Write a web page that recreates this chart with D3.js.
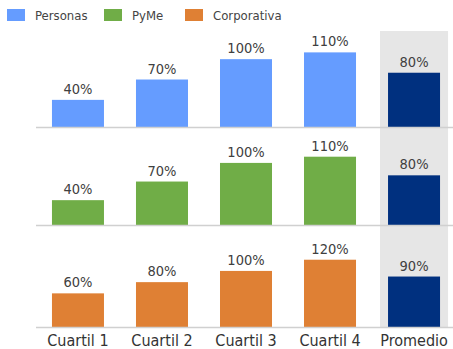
<!DOCTYPE html>
<html>
<head>
<meta charset="utf-8">
<script src="https://cdn.jsdelivr.net/npm/d3@7"></script>
<style>
  body { margin: 0; background: #fff; }
  text { font-family: "DejaVu Sans Condensed", "DejaVu Sans", sans-serif; font-stretch: condensed; }
</style>
</head>
<body>
<div id="graph"></div>
<script>
// categories and series
var categories = ["Cuartil 1", "Cuartil 2", "Cuartil 3", "Cuartil 4", "Promedio"];
var segments = ["Personas", "PyMe", "Corporativa"];
var personas = [40, 70, 100, 110, 80];
var pyme = [40, 70, 100, 110, 80];
var corporativa = [60, 80, 100, 120, 90];
var yMax = [143, 153, 173];

var colors = ["#659cff", "#70ad47", "#df8034"];
var avgColor = "#00307f";

var width = 453, height = 349;
var svg = d3.select("#graph").append("svg")
    .attr("width", width)
    .attr("height", height);

var x = d3.scaleBand()
    .domain(categories)
    .range([36, 456])
    .paddingInner(0.381)
    .paddingOuter(0.19);

var panelTop = [30, 130, 230],
    panelBase = [127, 225, 327];

// grey band behind Promedio
svg.append("rect")
    .attr("x", x("Promedio") - 8)
    .attr("y", 31)
    .attr("width", x.bandwidth() + 16)
    .attr("height", panelBase[2] - 31)
    .attr("fill", "#e6e6e6");

var series = [personas, pyme, corporativa];

series.forEach(function(values, p) {
  var y = d3.scaleLinear()
      .domain([0, yMax[p]])
      .range([panelBase[p], panelTop[p]]);

  var g = svg.append("g");

  g.selectAll("rect")
    .data(values)
    .enter().append("rect")
    .attr("x", function(d, i) { return x(categories[i]); })
    .attr("y", function(d) { return y(d); })
    .attr("width", x.bandwidth())
    .attr("height", function(d) { return y(0) - y(d); })
    .attr("fill", function(d, i) { return categories[i] == "Promedio" ? avgColor : colors[p]; });

  g.selectAll("text")
    .data(values)
    .enter().append("text")
    .attr("x", function(d, i) { return x(categories[i]) + x.bandwidth() / 2; })
    .attr("y", function(d) { return y(d) - 6; })
    .attr("text-anchor", "middle")
    .attr("font-size", "14.5px")
    .attr("fill", "#404040")
    .text(function(d) { return d + "%"; });

  // baseline
  g.append("line")
    .attr("x1", 36).attr("x2", 453)
    .attr("y1", y(0) + 0.5).attr("y2", y(0) + 0.5)
    .attr("stroke", "#d0d0d0")
    .attr("stroke-width", 1.5);
});

// category labels
svg.selectAll("text.cat")
  .data(categories)
  .enter().append("text")
  .attr("class", "cat")
  .attr("x", function(d) { return x(d) + x.bandwidth() / 2; })
  .attr("y", 346)
  .attr("text-anchor", "middle")
  .attr("font-size", "16px")
  .attr("fill", "#333")
  .text(function(d) { return d; });

// legend
var legendX = [7, 104, 185];
var legend = svg.selectAll("g.legend")
  .data(segments)
  .enter().append("g")
  .attr("class", "legend")
  .attr("transform", function(d, i) { return "translate(" + legendX[i] + ",9)"; });

legend.append("rect")
  .attr("width", 18).attr("height", 12)
  .attr("fill", function(d, i) { return colors[i]; });

legend.append("text")
  .attr("x", 28).attr("y", 11)
  .attr("font-size", "13px")
  .attr("fill", "#444")
  .text(function(d) { return d; });
</script>
</body>
</html>
